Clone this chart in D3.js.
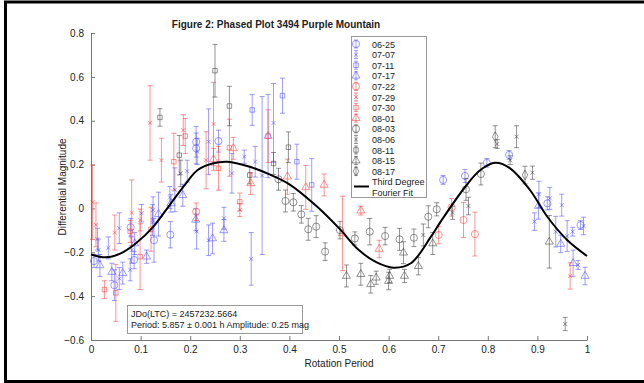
<!DOCTYPE html>
<html>
<head>
<meta charset="utf-8">
<script src="https://cdn.jsdelivr.net/npm/d3@7"></script>
<style>
  body { margin: 0; background: #fff; }
  svg text { font-family: "Liberation Sans", Arial, sans-serif; fill: #222; }
</style>
</head>
<body>
<svg id="chart" width="644" height="383"></svg>
<script>
// phase, magnitude, error
var s0625 = [[0.006,-0.24,0.03],[0.047,-0.35,0.07],[0.08,-0.086,0.04],[0.087,-0.235,0.04],[0.127,-0.145,0.1],[0.16,-0.12,0.06],[0.212,0.304,0.07],[0.212,0.274,0.07],[0.257,0.307,0.05],[0.71,0.13,0.02],[0.754,0.148,0.03],[0.798,0.208,0.02],[0.843,0.244,0.02],[0.92,0.023,0.03],[0.987,-0.076,0.02]];
var s0707 = [[0.013,-0.14,0.05],[0.015,-0.19,0.05],[0.035,-0.18,0.05],[0.057,-0.32,0.05],[0.057,-0.09,0.07],[0.079,-0.28,0.05],[0.082,-0.19,0.06],[0.102,-0.022,0.04],[0.124,-0.053,0.07],[0.125,-0.007,0.06],[0.159,0.05,0.05],[0.169,0.085,0.1],[0.194,0.17,0.05],[0.213,-0.105,0.08],[0.214,0.26,0.06],[0.237,-0.145,0.07],[0.237,0.304,0.15],[0.268,-0.045,0.05],[0.284,0.16,0.09],[0.309,0.236,0.03],[0.323,-0.23,0.12],[0.331,0.213,0.07],[0.345,0.15,0.36],[0.368,0.39,0.18],[0.894,-0.06,0.04],[0.903,0.064,0.06],[0.925,0.046,0.05],[0.937,-0.106,0.07],[0.949,0.015,0.05],[0.96,-0.126,0.07],[0.971,-0.106,0.02],[0.982,-0.258,0.02],[0.993,-0.08,0.04]];
var s0711 = [[0.325,0.449,0.07],[0.357,0.33,0.19],[0.386,0.514,0.08],[0.415,0.213,0.08],[0.445,0.107,0.12]];
var s0717 = [[0.018,-0.26,0.05],[0.042,-0.29,0.04],[0.064,-0.295,0.05],[0.088,-0.16,0.05],[0.112,-0.22,0.03],[0.136,-0.026,0.1],[0.161,0.023,0.04],[0.185,0.06,0.05],[0.211,-0.052,0.05],[0.245,-0.137,0.07],[0.268,-0.1,0.05],[0.902,0.011,0.06],[0.947,-0.162,0.04],[0.972,-0.25,0.06],[0.996,-0.308,0.04]];
var s0722 = [[0.212,-0.015,0.04],[0.701,-0.121,0.04],[0.727,0.005,0.04],[0.751,-0.053,0.08],[0.774,-0.117,0.1]];
var s0729 = [[0.003,0.028,0.17],[0.01,-0.075,0.1],[0.048,-0.11,0.08],[0.082,-0.02,0.15],[0.099,-0.053,0.05],[0.119,0.39,0.17],[0.142,0.22,0.1],[0.186,0.357,0.07],[0.232,0.22,0.13],[0.247,0.385,0.19],[0.3,-0.007,0.03],[0.966,-0.308,0.06]];
var s0730 = [[0.027,-0.37,0.04],[0.05,-0.385,0.13],[0.079,-0.105,0.05],[0.099,-0.22,0.15],[0.121,-0.095,0.1],[0.167,0.213,0.13],[0.19,0.33,0.08],[0.257,0.183,0.1],[0.279,0.277,0.13],[0.3,0.03,0.04]];
var s0801 = [[0.247,0.224,0.05],[0.287,0.274,0.05],[0.322,0.114,0.05],[0.357,0.33,0.12],[0.396,0.145,0.08],[0.433,0.096,0.1],[0.47,0.107,0.05],[0.507,-0.114,0.17],[0.544,-0.01,0.02],[0.581,-0.185,0.04]];
var s0803 = [[0.378,0.133,0.05],[0.392,0.034,0.05],[0.408,0.028,0.04],[0.424,-0.027,0.04],[0.438,-0.095,0.05],[0.454,-0.083,0.05],[0.472,-0.197,0.04],[0.502,-0.099,0.04],[0.532,-0.137,0.03],[0.562,-0.106,0.06],[0.593,-0.126,0.04],[0.622,-0.141,0.05],[0.651,-0.134,0.04],[0.68,-0.038,0.05],[0.697,-0.004,0.03],[0.756,0.087,0.05],[0.786,0.157,0.05]];
var s0806 = [[0.181,0.16,0.06],[0.67,-0.121,0.05],[0.729,-0.02,0.03],[0.761,0.011,0.04],[0.819,0.294,0.02],[0.845,0.22,0.02],[0.858,0.327,0.05],[0.89,0.163,0.03],[0.956,-0.527,0.03]];
var s0811 = [[0.139,0.415,0.04],[0.178,0.243,0.09],[0.25,0.628,0.12],[0.279,0.467,0.09],[0.32,0.152,0.04],[0.368,0.205,0.05],[0.398,0.279,0.07]];
var s0815 = [[0.515,-0.308,0.05],[0.544,-0.3,0.05],[0.564,-0.346,0.04],[0.575,-0.316,0.03],[0.6,-0.331,0.04],[0.602,-0.308,0.03],[0.63,-0.202,0.05],[0.632,-0.308,0.03],[0.66,-0.263,0.04],[0.689,-0.16,0.05],[0.924,-0.152,0.12]];
var s0817 = [[0.815,0.327,0.05],[0.875,0.152,0.04]];

// third degree fourier fit
var fitPhase = [0,0.03,0.06,0.09,0.125,0.16,0.19,0.215,0.245,0.275,0.32,0.36,0.4,0.455,0.5,0.54,0.575,0.61,0.645,0.685,0.705,0.755,0.785,0.815,0.845,0.885,0.92,0.96,1];
var fitMag = [-0.21,-0.223,-0.205,-0.16,-0.085,0.02,0.11,0.175,0.205,0.213,0.19,0.155,0.11,0.01,-0.09,-0.19,-0.245,-0.27,-0.25,-0.13,-0.06,0.1,0.175,0.208,0.183,0.084,-0.038,-0.144,-0.217];

var seriesNames = ['06-25','07-07','07-11','07-17','07-22','07-29','07-30','08-01','08-03','08-06','08-11','08-15','08-17'];
var seriesData = [s0625,s0707,s0711,s0717,s0722,s0729,s0730,s0801,s0803,s0806,s0811,s0815,s0817];
var seriesColor = ['#4d4dff','#4d4dff','#4d4dff','#4d4dff','#ff3b3b','#ff3b3b','#ff3b3b','#ff3b3b','#3c3c3c','#3c3c3c','#3c3c3c','#3c3c3c','#3c3c3c'];
var seriesShape = ['circle','x','square','triangle','circle','x','square','triangle','circle','x','square','triangle','diamond'];

var xTicks = [0,0.1,0.2,0.3,0.4,0.5,0.6,0.7,0.8,0.9,1];
var yTicks = [-0.6,-0.4,-0.2,0,0.2,0.4,0.6,0.8];

var svg = d3.select('#chart');

// page frame
svg.append('rect')
  .attr('x', 5.5).attr('y', 2)
  .attr('width', 700).attr('height', 379.5)
  .attr('fill', 'none')
  .attr('stroke', '#000')
  .attr('stroke-width', 3);

var x = d3.scaleLinear().domain([0, 1]).range([91, 587]);
var y = d3.scaleLinear().domain([-0.6, 0.8]).range([340, 33]);

var shapes = {
  circle: { type: d3.symbolCircle, size: 40 },
  x: { type: d3.symbolTimes, size: 12 },
  square: { type: d3.symbolSquare, size: 20 },
  triangle: { type: d3.symbolTriangle, size: 28 },
  diamond: { type: d3.symbolDiamond, size: 28 }
};

function symbolPath(shape) {
  return d3.symbol().type(shapes[shape].type).size(shapes[shape].size)();
}

// axes
var xAxis = d3.axisBottom(x)
  .tickValues(xTicks)
  .tickSizeInner(-4)
  .tickSizeOuter(0)
  .tickPadding(6)
  .tickFormat(d3.format('~g'));

var yAxis = d3.axisLeft(y)
  .tickValues(yTicks)
  .tickSizeInner(-4)
  .tickSizeOuter(0)
  .tickPadding(7)
  .tickFormat(d3.format('~g'));

var gx = svg.append('g')
  .attr('transform', 'translate(0,340)')
  .call(xAxis);

var gy = svg.append('g')
  .attr('transform', 'translate(91,0)')
  .call(yAxis);

[gx, gy].forEach(function(g) {
  g.select('.domain').attr('stroke', '#777');
  g.selectAll('.tick line').attr('stroke', '#777');
  g.selectAll('.tick text')
    .attr('font-size', 10)
    .attr('fill', '#222')
    .style('font-family', '"Liberation Sans", Arial, sans-serif');
});

// error bars and markers
var plot = svg.append('g');

seriesData.forEach(function(data, i) {
  var color = seriesColor[i];
  var g = plot.append('g')
    .attr('stroke', color)
    .attr('stroke-opacity', 0.55)
    .attr('fill', 'none');

  var bars = g.selectAll('g.bar')
    .data(data)
    .enter()
    .append('g')
    .attr('class', 'bar');

  bars.append('line')
    .attr('x1', function(d) { return x(d[0]); })
    .attr('x2', function(d) { return x(d[0]); })
    .attr('y1', function(d) { return y(d[1] - d[2]); })
    .attr('y2', function(d) { return y(d[1] + d[2]); });

  [-1, 1].forEach(function(sign) {
    bars.append('line')
      .attr('x1', function(d) { return x(d[0]) - 2.5; })
      .attr('x2', function(d) { return x(d[0]) + 2.5; })
      .attr('y1', function(d) { return y(d[1] + sign * d[2]); })
      .attr('y2', function(d) { return y(d[1] + sign * d[2]); });
  });

  g.selectAll('path')
    .data(data)
    .enter()
    .append('path')
    .attr('d', symbolPath(seriesShape[i]))
    .attr('transform', function(d) {
      return 'translate(' + x(d[0]) + ',' + y(d[1]) + ')';
    })
    .attr('stroke-width', 1);
});

// fit line
var fit = fitPhase.map(function(p, i) { return [p, fitMag[i]]; });

svg.append('path')
  .datum(fit)
  .attr('fill', 'none')
  .attr('stroke', '#000')
  .attr('stroke-width', 2)
  .attr('d', d3.line()
    .curve(d3.curveCatmullRom)
    .x(function(d) { return x(d[0]); })
    .y(function(d) { return y(d[1]); }));

// legend
var legend = svg.append('g');

legend.append('rect')
  .attr('x', 351.5).attr('y', 36.5)
  .attr('width', 75).attr('height', 161)
  .attr('fill', '#fff')
  .attr('stroke', '#999');

seriesNames.forEach(function(name, i) {
  var ly = 44 + i * 10.6;
  var lg = legend.append('g')
    .attr('transform', 'translate(356,' + ly + ')')
    .attr('stroke', seriesColor[i])
    .attr('stroke-opacity', 0.55)
    .attr('fill', 'none');

  lg.append('line').attr('x1', 0).attr('x2', 0).attr('y1', -4).attr('y2', 4);
  lg.append('line').attr('x1', -2).attr('x2', 2).attr('y1', -4).attr('y2', -4);
  lg.append('line').attr('x1', -2).attr('x2', 2).attr('y1', 4).attr('y2', 4);
  lg.append('path').attr('d', symbolPath(seriesShape[i]));

  legend.append('text')
    .attr('x', 372)
    .attr('y', ly + 3.5)
    .attr('font-size', 9)
    .text(name);
});

legend.append('line')
  .attr('x1', 354).attr('x2', 369)
  .attr('y1', 186.5).attr('y2', 186.5)
  .attr('stroke', '#000')
  .attr('stroke-width', 2);

legend.append('text').attr('x', 372).attr('y', 185).attr('font-size', 9).text('Third Degree');
legend.append('text').attr('x', 372).attr('y', 195.5).attr('font-size', 9).text('Fourier Fit');

// info box
var info = svg.append('g');

info.append('rect')
  .attr('x', 127.5).attr('y', 305.5)
  .attr('width', 175).attr('height', 28)
  .attr('fill', '#fff')
  .attr('stroke', '#999');

info.append('text').attr('x', 131).attr('y', 317).attr('font-size', 9)
  .text('JDo(LTC) = 2457232.5664');
info.append('text').attr('x', 131).attr('y', 328).attr('font-size', 9)
  .text('Period: 5.857 \u00b1 0.001 h Amplitude: 0.25 mag');

// titles
svg.append('text')
  .attr('x', 276).attr('y', 28)
  .attr('text-anchor', 'middle')
  .attr('font-size', 10)
  .attr('font-weight', 'bold')
  .text('Figure 2: Phased Plot 3494 Purple Mountain');

svg.append('text')
  .attr('x', 339).attr('y', 367)
  .attr('text-anchor', 'middle')
  .attr('font-size', 10)
  .text('Rotation Period');

svg.append('text')
  .attr('transform', 'translate(66,187) rotate(-90)')
  .attr('text-anchor', 'middle')
  .attr('font-size', 10)
  .text('Differential Magnitude');
</script>
</body>
</html>
